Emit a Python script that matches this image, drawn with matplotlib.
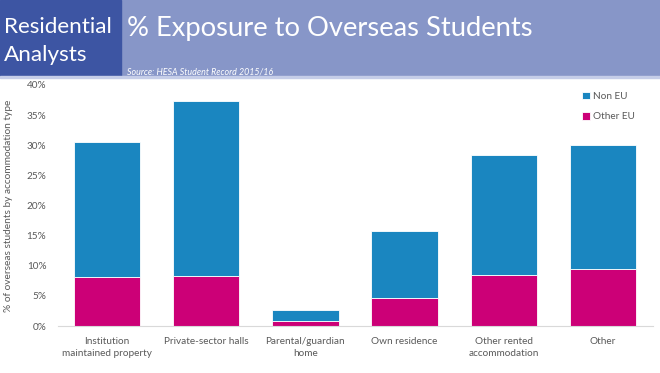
import matplotlib.pyplot as plt
from matplotlib.patches import Rectangle
from matplotlib.ticker import PercentFormatter

categories = ['Institution\nmaintained property', 'Private-sector halls', 'Parental/guardian\nhome',
              'Own residence', 'Other rented\naccommodation', 'Other']
other_eu = [8.1, 8.3, 0.8, 4.6, 8.5, 9.5]
non_eu = [22.4, 29.0, 1.85, 11.2, 19.9, 20.5]

blue = '#1a86c0'
pink = '#cc0077'
grey = '#595959'

plt.rcParams['font.family'] = ['Lato', 'DejaVu Sans']

W, H = 660, 373
fig = plt.figure(figsize=(6.6, 3.73), dpi=100)

# header band
fig.patches.append(Rectangle((0, 1 - 76 / H), 1, 76 / H, transform=fig.transFigure,
                             color='#8796c8', zorder=0))
fig.patches.append(Rectangle((0, 1 - 76 / H), 121 / W, 76 / H, transform=fig.transFigure,
                             color='#3d55a3', zorder=1))
fig.patches.append(Rectangle((0, 1 - 78 / H), 1, 2 / H, transform=fig.transFigure,
                             color='#c5cde8', zorder=1))
fig.text(4 / W, 1 - 33 / H, 'Residential', color='white', fontsize=16.2, va='baseline', ha='left')
fig.text(4 / W, 1 - 61 / H, 'Analysts', color='white', fontsize=16.2, va='baseline', ha='left')
fig.text(127 / W, 1 - 36 / H, '% Exposure to Overseas Students', color='white', fontsize=19.7,
         va='baseline', ha='left')
fig.text(127 / W, 1 - 74.5 / H, 'Source: HESA Student Record 2015/16', color='white', fontsize=6.4,
         style='italic', va='baseline', ha='left')

ax = fig.add_axes([57.5 / W, 1 - 326 / H, 595 / W, 241 / H])
x = range(len(categories))
ax.bar(x, other_eu, width=0.67, color=pink, edgecolor='white', linewidth=0.6, label='Other EU')
ax.bar(x, non_eu, width=0.67, bottom=other_eu, color=blue, edgecolor='white', linewidth=0.6,
       label='Non EU')

ax.set_xlim(-0.5, len(categories) - 0.5)
ax.set_ylim(0, 40)
ax.set_yticks(range(0, 41, 5))
ax.yaxis.set_major_formatter(PercentFormatter(decimals=0))
ax.set_xticks(list(x))
ax.set_xticklabels(categories, linespacing=1.45)
ax.tick_params(axis='both', length=0, labelsize=7.2, colors=grey)
ax.tick_params(axis='x', pad=8)
ax.tick_params(axis='y', pad=8)
for s in ['top', 'right', 'left']:
    ax.spines[s].set_visible(False)
ax.spines['bottom'].set_color('#d9d9d9')
ax.set_ylabel('% of overseas students by accommodation type', fontsize=7.3, color=grey, labelpad=10)

h, l = ax.get_legend_handles_labels()
ax.legend(h[::-1], l[::-1], loc='upper right', frameon=False, fontsize=7.2, labelcolor=grey,
          handlelength=0.8, handleheight=0.8, handletextpad=0.3, labelspacing=1.1,
          bbox_to_anchor=(0.985, 1.01))

fig.savefig('out.png', dpi=100)
